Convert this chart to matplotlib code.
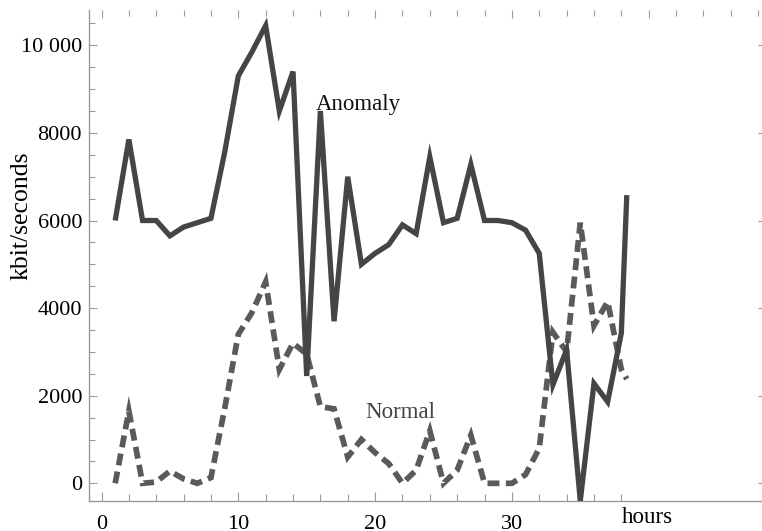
import matplotlib
matplotlib.use("Agg")
import matplotlib.pyplot as plt
from matplotlib.ticker import FixedLocator

plt.rcParams['font.family'] = ['Liberation Serif', 'DejaVu Serif']
plt.rcParams['lines.scale_dashes'] = False

# ---- data ----
hours = [1, 2, 3, 4, 5, 6, 7, 8, 9, 10, 11, 12, 13, 14, 15, 16, 17, 18, 19, 20,
         21, 22, 23, 24, 25, 26, 27, 28, 29, 30, 31, 32, 33, 34, 35, 36, 37, 38, 38.4]
anomaly = [6000, 7850, 6000, 6000, 5650, 5850, 5950, 6050, 7550, 9300,
           9850, 10450, 8500, 9400, 2450, 8500, 3700, 7000, 5000, 5250,
           5450, 5900, 5700, 7450, 5950, 6050, 7280, 6000, 6000, 5950,
           5780, 5250, 2250, 3050, -400, 2280, 1860, 3430, 6580]
normal = [0, 1650, 0, 30, 280, 100, 0, 130, 1700, 3400,
          3900, 4600, 2600, 3200, 2950, 1750, 1700, 600, 1000, 700,
          450, 0, 300, 1200, 0, 300, 1100, 0, 0, 0,
          200, 800, 3450, 3000, 5950, 3600, 4150, 2600, 2380]

y_ticks = [0, 2000, 4000, 6000, 8000, 10000]
y_tick_labels = ["0", "2000", "4000", "6000", "8000", "10 000"]
x_ticks = [0, 10, 20, 30]
x_tick_labels = ["0", "10", "20", "30"]

W, H = 762, 531
fig = plt.figure(figsize=(W / 100, H / 100), dpi=100)
L, R, T, B = 89, 764, 10, 500.7
ax = fig.add_axes([L / W, (H - B) / H, (R - L) / W, (B - T) / H])

ax.plot(hours, anomaly, color='#454545', lw=3.8, solid_joinstyle='miter',
        solid_capstyle='butt', zorder=3)
ax.plot(hours, normal, color='#5a5a5a', lw=4.1, dashes=(8.6, 4.6),
        dash_joinstyle='miter', dash_capstyle='butt', zorder=2)

ax.set_xlim(-0.914, 48.43)
ax.set_ylim(-397, 10806)

spine_c = '#9a9a9a'
for s in ['top', 'right']:
    ax.spines[s].set_visible(False)
for s in ['left', 'bottom']:
    ax.spines[s].set_color(spine_c)
    ax.spines[s].set_linewidth(1.0)

ax.xaxis.set_major_locator(FixedLocator(x_ticks))
ax.set_xticklabels(x_tick_labels)
ax.xaxis.set_minor_locator(FixedLocator([v for v in range(2, 39, 2) if v % 10]))
ax.yaxis.set_major_locator(FixedLocator(y_ticks))
ax.set_yticklabels(y_tick_labels)
ax.yaxis.set_minor_locator(FixedLocator([v for v in range(500, 10800, 500) if v % 2000]))

ax.tick_params(axis='both', which='both', direction='in', color=spine_c,
               width=0.8, labelsize=16, labelcolor='black')
ax.tick_params(axis='x', which='major', length=6.5, pad=10.5)
ax.tick_params(axis='x', which='minor', length=5)
ax.tick_params(axis='y', which='major', length=6, pad=5)
ax.tick_params(axis='y', which='minor', length=4.5)

# top ticks (no labels)
top = ax.secondary_xaxis('top')
top.spines['top'].set_visible(False)
top.xaxis.set_major_locator(FixedLocator([0, 10, 20, 30, 40]))
top.xaxis.set_minor_locator(FixedLocator([v for v in range(2, 49, 2) if v % 10]))
top.tick_params(axis='x', which='both', direction='in', color=spine_c, width=0.8,
                labeltop=False)
top.tick_params(axis='x', which='major', length=6)
top.tick_params(axis='x', which='minor', length=4.5)

# right ticks (no labels)
right = ax.secondary_yaxis('right')
right.spines['right'].set_visible(False)
right.yaxis.set_major_locator(FixedLocator(y_ticks))
right.yaxis.set_minor_locator(FixedLocator([]))
right.tick_params(axis='y', which='both', direction='in', color=spine_c, width=0.8,
                  labelright=False, length=4)

ax.text(15.68, 8523, "Anomaly", fontsize=16.5, color='#111111',
        ha='left', va='baseline', zorder=4)
ax.text(19.26, 1490, "Normal", fontsize=16.5, color='#444444',
        ha='left', va='baseline', zorder=4)

fig.text(22 / W, 1 - 216 / H, "kbit/seconds", rotation=90, fontsize=18.5,
         ha='center', va='center', color='black')
fig.text(622 / W, (H - 523) / H, "hours", fontsize=16.5, ha='left',
         va='baseline', color='black')

fig.savefig("out.png", dpi=100)
